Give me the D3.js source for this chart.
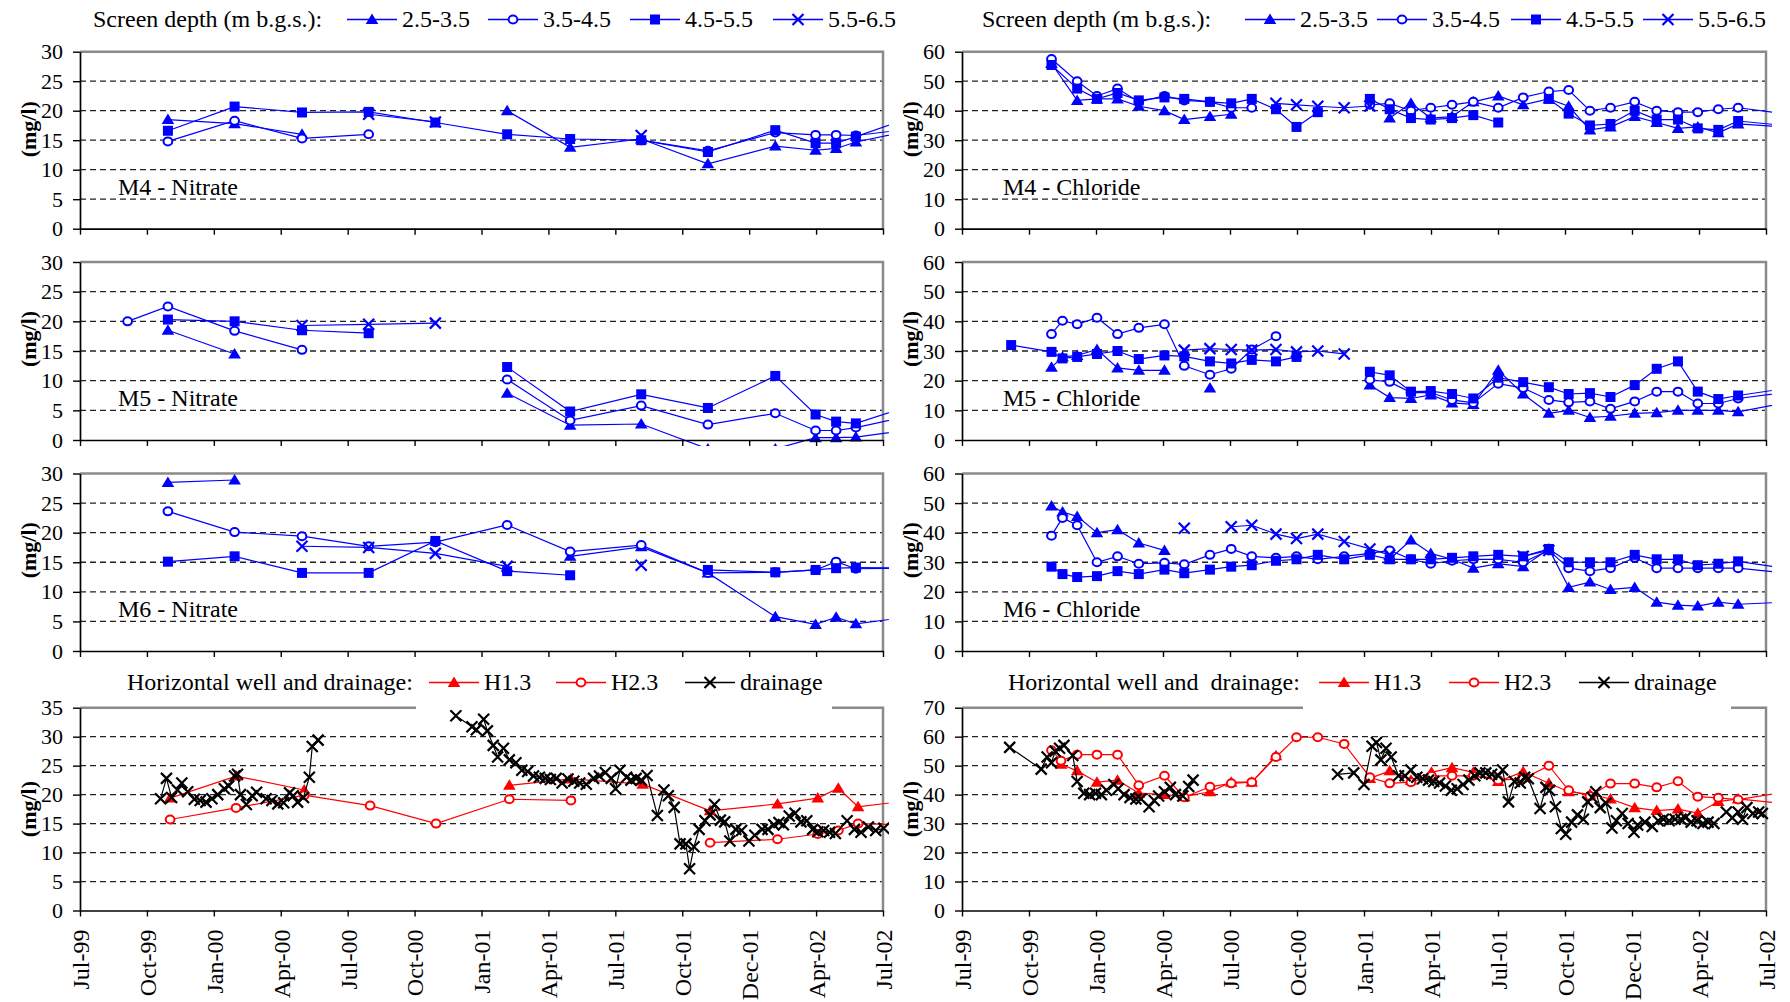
<!DOCTYPE html>
<html>
<head>
<meta charset="utf-8">
<script src="https://cdn.jsdelivr.net/npm/d3@7"></script>
<style>
	body { margin: 0; background: #fff; }
	svg text { font-family: "Liberation Serif", "Times New Roman", serif; fill: #000; }
</style>
</head>
<body>
<svg id="chart" width="1790" height="1002"></svg>
<script>
/* Tick labels and legend texts */
var tickLabels = ['Jul-99', 'Oct-99', 'Jan-00', 'Apr-00', 'Jul-00', 'Oct-00', 'Jan-01',
	'Apr-01', 'Jul-01', 'Oct-01', 'Dec-01', 'Apr-02', 'Jul-02'];
var depthLabels = ['2.5-3.5', '3.5-4.5', '4.5-5.5', '5.5-6.5'];
var wellLabels = ['H1.3', 'H2.3', 'drainage'];

/* Nitrate, monitoring wells M4-M6 (mg/l) */
var nitDates = ['1999-09-04', '1999-10-29', '2000-01-28', '2000-04-29', '2000-07-29', '2000-10-28',
	'2001-02-03', '2001-04-30', '2001-08-05', '2001-11-04', '2002-02-04', '2002-03-31',
	'2002-04-28', '2002-05-25', '2002-08-20'];
var m4Nit25 = [null, 18.5, 17.8, 16.0, null, null, 20.0, 13.8, 15.2, 11.0, 14.0, 13.3, 13.6, 14.7, 16.9];
var m4Nit35 = [null, 14.8, 18.3, 15.3, 16.0, null, null, null, 15.0, 13.2, 16.3, 15.9, 15.9, 15.8, 17.1];
var m4Nit45 = [null, 16.6, 20.7, 19.7, 19.8, 18.0, 16.0, 15.2, 15.0, 13.0, 16.7, 14.5, 14.5, 15.6, 19.4];
var m4Nit55 = [null, null, null, null, 19.4, 18.1, null, null, 15.8, null, null, null, null, null, null];
var m5Nit25 = [null, 18.5, 14.5, null, null, null, 7.9, 2.5, 2.7, -1.5, -1.5, 0.4, 0.4, 0.5, 1.9];
var m5Nit35 = [20.0, 22.5, 18.4, 15.2, null, null, 10.2, 3.3, 5.8, 2.6, 4.5, 1.6, 1.6, 2.1, 4.4];
var m5Nit45 = [null, 20.3, 20.0, 18.5, 18.0, null, 12.3, 4.8, 7.7, 5.4, 10.8, 4.3, 3.1, 2.8, 6.3];
var m5Nit55 = [null, null, null, 19.3, 19.5, 19.7, null, null, null, null, null, null, null, null, null];
var m6Nit25 = [null, 28.5, 28.9, null, null, null, null, 16.0, 17.6, 13.2, 5.8, 4.5, 5.7, 4.6, 6.0];
var m6Nit35 = [null, 23.6, 20.1, 19.4, 17.7, 18.4, 21.3, 16.8, 17.9, 13.2, 13.3, 13.7, 15.1, 13.9, 14.0];
var m6Nit45 = [null, 15.1, 16.0, 13.2, 13.2, 18.6, 13.5, 12.8, null, 13.7, 13.3, 13.7, 14.0, 14.1, 14.0];
var m6Nit55 = [null, null, null, 17.7, 17.5, 16.5, 14.3, null, 14.5, null, null, null, null, null, null];

/* Chloride, M4 (mg/l) */
var m4ChlDates = ['1999-10-31', '1999-12-05', '2000-01-01', '2000-01-29', '2000-02-27', '2000-04-02',
	'2000-04-29', '2000-06-03', '2000-07-02', '2000-07-30', '2000-09-01', '2000-09-29', '2000-10-28',
	'2000-12-03', '2001-01-07', '2001-02-03', '2001-03-04', '2001-03-31', '2001-04-29', '2001-05-28',
	'2001-07-01', '2001-08-04', '2001-09-08', '2001-10-05', '2001-11-03', '2001-12-01', '2002-01-03',
	'2002-02-02', '2002-03-03', '2002-03-30', '2002-04-27', '2002-05-24', '2002-07-26'];
var m4Chl25 = [56, 43.5, 44, 44, 41.5, 40, 37, 38, 38.8, null, null, null, null, null, null, 37.5, 42.5,
	37.5, 38, 43, 45, 42, 44, 41.5, 33.5, 34.5, 38, 36, 34, 34.5, 32.5, 35.5, 34.5];
var m4Chl35 = [57.5, 50, 45, 47.5, 43, 45, 43.5, 43, 41, 41, null, null, null, null, 42, 42.5, 40,
	41, 42, 43, 41, 44.5, 46.5, 47, 40, 41, 43, 40, 39.5, 39.5, 40.5, 41, 39];
var m4Chl45 = [55.5, 47.5, 44, 46, 43.5, 44.5, 44, 43, 42.5, 44, 40.5, 34.5, 39.5, null, 44, 40.5, 37.5,
	37, 37.5, 38.5, 36, null, 44, 39, 35, 35.5, 40, 37, 37, 34, 33.5, 36.5, 35];
var m4Chl55 = [null, null, null, null, null, null, null, null, null, null, 42.5, 42, 41.5, 41, 41.6, null,
	null, null, null, null, null, null, null, null, null, null, null, null, null, null, null, null, null];

/* Chloride, M5 and M6 (mg/l) */
var m56ChlDates = ['1999-09-06', '1999-10-31', '1999-11-15', '1999-12-05', '2000-01-01', '2000-01-29',
	'2000-02-27', '2000-04-02', '2000-04-29', '2000-06-03', '2000-07-02', '2000-07-30', '2000-09-01',
	'2000-09-29', '2000-10-28', '2000-12-03', '2001-01-07', '2001-02-03', '2001-03-04', '2001-03-31',
	'2001-04-29', '2001-05-28', '2001-07-01', '2001-08-04', '2001-09-08', '2001-10-05', '2001-11-03',
	'2001-12-01', '2002-01-03', '2002-02-02', '2002-03-03', '2002-03-30', '2002-04-27', '2002-05-24',
	'2002-07-26'];
var m5Chl25 = [null, 24.5, 28, 28.5, 30.5, 24.3, 23.5, 23.5, null, 17.5, null, null, null, null, null, null,
	18.5, 14.3, 14, 15.2, 12.5, 12, 23.5, 15.5, 9, 10, 7.6, 8, 9, 9.2, 10, 10, 10, 9.5, 12.5];
var m5Chl35 = [null, 35.7, 40.2, 39, 41.2, 35.7, 37.8, 39, 25, 22, 24, 30.5, 35, null, null, null,
	20.3, 19.6, 16, 16, 13.5, 12.5, 19, 17.5, 13.5, 12.7, 13, 10.5, 13, 16.3, 16.3, 12.3, 12.3, 14, 16];
var m5Chl45 = [32, 29.7, 27.5, 28, 29, 30, 27.3, 28.5, 28.2, 26.5, 25.8, 27, 26.5, 28, null, null,
	23, 21.8, 16.3, 16.5, 15.5, 14, 21, 19.5, 17.8, 15.5, 15.8, 14.5, 18.5, 24, 26.5, 16.3, 13.8, 15, 17.3];
var m5Chl55 = [null, null, null, null, null, null, null, null, 30.3, 30.8, 30.5, 30.3, 30.5, 29.7, 30, 29,
	null, null, null, null, null, null, null, null, null, null, null, null, null, null, null, null, null, null, null];
var m6Chl25 = [null, 49, 47, 45.5, 40, 41, 36.5, 34, null, null, null, null, null, null, null, null,
	null, 31, 37.5, 33, 31, 28, 29.5, 28.5, 34.5, 21.5, 23.3, 20.8, 21.5, 16.5, 15.5, 15.2, 16.5, 15.8, 16.5];
var m6Chl35 = [null, 39, 45, 42.5, 30, 32, 29.5, 29.8, 29.3, 32.5, 34.5, 32, 31.5, 32, 31, 32,
	33, 34, 31, 29.5, 30.5, 31, 31, 30, 34, 28, 27, 28, 31.5, 28, 28, 28, 28, 28, 26.4];
var m6Chl45 = [null, 28.5, 26, 25, 25.3, 27, 26, 27.5, 26.3, 27.5, 28.5, 29, 30.5, 31, 32.5, 31,
	32.5, 31, 31, 31, 31.5, 32, 32.5, 32, 34.5, 30, 30, 30, 32.5, 31, 31, 29, 29.5, 30.3, 28];
var m6Chl55 = [null, null, null, null, null, null, null, null, 41.5, null, 42, 42.5, 39.5, 38, 39.5, 37,
	34.5, 32.5, null, null, null, null, null, 32, 34, null, null, null, null, null, null, null, null, null, null];

/* Horizontal wells, nitrate (mg/l) */
var hNitDates = ['1999-11-01', '2000-01-30', '2000-05-02', '2000-07-31', '2000-10-29', '2001-02-06',
	'2001-05-01', '2001-08-07', '2001-11-07', '2002-02-07', '2002-04-03', '2002-05-01', '2002-05-28',
	'2002-08-20'];
var h13Nit = [19.4, 23.2, 20.8, null, null, 21.6, 22.7, 21.8, 17.2, 18.4, 19.4, 21.1, 17.9, 19.2];
var h23Nit = [15.7, 17.7, 19.9, 18.1, 15.0, 19.2, 19.0, null, 11.7, 12.3, 13.2, 13.8, 15.0, 14.7];

/* Drainage, nitrate (mg/l) */
var drainNitDates = [
	'1999-10-19', '1999-10-27', '1999-11-03', '1999-11-11', '1999-11-17', '1999-11-25', '1999-12-04', '1999-12-12', '1999-12-20', '1999-12-28',
	'2000-01-05', '2000-01-14', '2000-01-20', '2000-01-28', '2000-02-01', '2000-02-05', '2000-02-13', '2000-02-21', '2000-02-27', '2000-03-11',
	'2000-03-19', '2000-03-27', '2000-04-04', '2000-04-12', '2000-04-17', '2000-04-23', '2000-05-01', '2000-05-09', '2000-05-13', '2000-05-21',
	'2000-08-15',
	'2000-11-25', '2000-12-17', '2000-12-23', '2001-01-02', '2001-01-07', '2001-01-15', '2001-01-21', '2001-01-29', '2001-02-06', '2001-02-15',
	'2001-02-23', '2001-03-03', '2001-03-11', '2001-03-19', '2001-03-27', '2001-04-03', '2001-04-11', '2001-04-19', '2001-04-27', '2001-05-05',
	'2001-05-13', '2001-05-22', '2001-06-01', '2001-06-09', '2001-06-17', '2001-06-25', '2001-07-01', '2001-07-07', '2001-07-16', '2001-07-22',
	'2001-07-29', '2001-08-05', '2001-08-13', '2001-08-27', '2001-09-05', '2001-09-11', '2001-09-19', '2001-09-27', '2001-10-05', '2001-10-10',
	'2001-10-16', '2001-10-23', '2001-10-31', '2001-11-07', '2001-11-13', '2001-11-21', '2001-11-27', '2001-12-04', '2001-12-12', '2001-12-20',
	'2001-12-30', '2002-01-07', '2002-01-17', '2002-01-25', '2002-02-02', '2002-02-09', '2002-02-15', '2002-02-23', '2002-03-03', '2002-03-11',
	'2002-03-19', '2002-03-27', '2002-04-03', '2002-04-11', '2002-04-19', '2002-04-27', '2002-05-13', '2002-05-23', '2002-06-01', '2002-06-11',
	'2002-06-21', '2002-07-02'];
var drainNitValues = [
	19.3, 22.8, 19.5, 20.8, 22.0, 20.5, 19.2, 19.0, 18.7, 19.3,
	20.0, 21.0, 21.5, 23.2, 23.5, 20.0, 18.3, 19.8, 20.4, 19.3,
	19.0, 18.4, 18.6, 20.3, 19.8, 18.7, 19.5, 23.0, 28.3, 29.4,
	null,
	33.6, 31.7, 31.2, 33.0, 31.0, 28.5, 26.5, 28.0, 26.0, 25.5,
	24.2, 24.0, 23.2, 23.0, 22.8, 22.6, 22.8, 22.0, 22.7, 22.3,
	22.0, 21.8, 22.8, 23.2, 23.8, 22.8, 21.0, 24.2, 23.0, 22.5,
	22.8, 22.5, 23.3, 16.4, 20.8, 19.8, 17.8, 11.5, 11.5, 7.2,
	11.0, 14.0, 15.5, 16.5, 18.3, 15.6, 15.3, 12.0, 14.0, 13.8,
	12.0, 13.0, 14.0, 14.0, 14.8, 15.2, 14.8, 16.3, 16.8, 15.3,
	15.5, 14.0, 13.6, 13.8, 13.5, 13.3, 15.5, 14.0, 13.5, 14.4,
	13.8, 14.2];

/* Horizontal wells, chloride (mg/l) */
var hChlDates = ['1999-10-31', '1999-11-13', '1999-12-05', '2000-01-01', '2000-01-29', '2000-02-27',
	'2000-04-02', '2000-04-29', '2000-06-03', '2000-07-02', '2000-07-30', '2000-09-01', '2000-09-29',
	'2000-10-28', '2000-12-03', '2001-01-07', '2001-02-03', '2001-03-04', '2001-04-01', '2001-04-29',
	'2001-05-28', '2001-07-01', '2001-08-04', '2001-09-08', '2001-10-05', '2001-11-03', '2001-12-01',
	'2002-01-03', '2002-02-02', '2002-03-03', '2002-03-30', '2002-04-27', '2002-05-24', '2002-07-26'];
var h13Chl = [null, 50.5, 48.2, 44.3, 45, 40.5, 40, 39.3, 41, 44.3, 44.3, 53.4, null, null, null, 45.6, 48.2,
	45, 47.7, 49.3, 47.7, 44.5, 47.9, 43.9, 41, 40.1, 38.5, 35.5, 34.5, 35, 33.6, 37.6, 38.5, 36.9];
var h23Chl = [55.3, 51.7, 53.8, 53.8, 53.8, 43.2, 46.5, 39.1, 42.7, 43.9, 44.3, 53.0, 59.8, 59.8, 57.5, 46,
	43.9, 44.3, 46.5, 46.5, 46.5, 45, 45.5, 50, 41.5, 39.5, 43.8, 43.8, 42.5, 44.6, 39.3, 38.9, 38.3, 40.8];

/* Drainage, chloride (mg/l) */
var drainChlDates = [
	'1999-09-04', '1999-10-17', '1999-10-25', '1999-10-31', '1999-11-05', '1999-11-11', '1999-11-17', '1999-11-29', '1999-12-05', '1999-12-14',
	'1999-12-22', '1999-12-30', '2000-01-07', '2000-01-14', '2000-01-24', '2000-01-30', '2000-02-07', '2000-02-15', '2000-02-23', '2000-03-01',
	'2000-03-12', '2000-03-19', '2000-03-25', '2000-04-02', '2000-04-10', '2000-04-17', '2000-04-27', '2000-05-05', '2000-05-11', '2000-08-15',
	'2000-11-24', '2000-12-16', '2000-12-30', '2001-01-10', '2001-01-16', '2001-01-22', '2001-01-29', '2001-02-05', '2001-02-15', '2001-02-24',
	'2001-03-04', '2001-03-12', '2001-03-20', '2001-03-28', '2001-04-04', '2001-04-12', '2001-04-20', '2001-04-28', '2001-05-06', '2001-05-14',
	'2001-05-22', '2001-05-30', '2001-06-06', '2001-06-14', '2001-06-22', '2001-07-01', '2001-07-07', '2001-07-15', '2001-07-23', '2001-07-31',
	'2001-08-06', '2001-08-11', '2001-08-27', '2001-09-04', '2001-09-09', '2001-09-17', '2001-09-25', '2001-10-01', '2001-10-09', '2001-10-17',
	'2001-10-25', '2001-10-31', '2001-11-06', '2001-11-11', '2001-11-17', '2001-11-25', '2001-12-03', '2001-12-09', '2001-12-17', '2001-12-25',
	'2002-01-02', '2002-01-07', '2002-01-17', '2002-01-27', '2002-02-04', '2002-02-11', '2002-02-19', '2002-02-27', '2002-03-07', '2002-03-13',
	'2002-03-21', '2002-03-29', '2002-04-06', '2002-04-13', '2002-04-21', '2002-05-08', '2002-05-16', '2002-05-24', '2002-05-30', '2002-06-05',
	'2002-06-13', '2002-06-21', '2002-06-26'];
var drainChlValues = [
	56.3, 48.8, 53, 51, 55, 56, 57, 53.5, 44.5, 40.5,
	40, 40.5, 40, 41.5, 43.5, 42, 40, 39, 38.5, 38.5,
	35.8, 38, 39.5, 41, 42.5, 40, 39.5, 42.8, 45, null,
	47, 47.5, 43.5, 56.7, 58, 52, 56, 53, 46.5, 46.5,
	48.5, 46, 45.5, 45, 44.5, 44, 43, 41.5, 42, 43.5,
	45, 46.5, 47.5, 47.5, 47, 46.5, 48.5, 37.5, 44.5, 44,
	46, 45.5, 35.2, 42.5, 41.5, 35.8, 28.3, 26.3, 30.5, 33,
	31.5, 37.5, 39, 41, 35.5, 37, 28.5, 31, 33.5, 30,
	27, 29.5, 30.5, 29, 31, 31.5, 31, 31.5, 31.5, 32,
	30.5, 31, 30, 30.5, 30, 34, 32, 34, 31.5, 35.5,
	33.5, 34, 33.5];

/* Layout */
var serif = '"Liberation Serif", "Times New Roman", serif';
var svg = d3.select('#chart');
var parseDate = d3.timeParse('%Y-%m-%d');
var dateMin = parseDate('1999-07-01'),
	dateMax = parseDate('2002-07-01');
var tickDates = d3.range(13).map(function (i) {
	return new Date(+dateMin + i * (dateMax - dateMin) / 12);
});
var colX = [[80, 883], [962, 1766]];
var rowY = [[51.7, 228.7], [262, 440], [473.5, 651], [707.7, 910.5]];
var titleShift = [-11, -12, -12, 0];
var blue = '#0000ff', red = '#ff0000', black = '#000000';
var depthMarkers = ['tri', 'circ', 'sq', 'x'];

var depthSeries = function (dates, list) {
	return list.map(function (values, i) {
		return { dates: dates, values: values, color: blue, marker: depthMarkers[i] };
	});
};

var wellSeries = function (hDates, h13, h23, dDates, dValues) {
	return [
		{ dates: hDates, values: h13, color: red, marker: 'tri' },
		{ dates: hDates, values: h23, color: red, marker: 'circ' },
		{ dates: dDates, values: dValues, color: black, marker: 'x' }
	];
};

var panels = [
	{ col: 0, row: 0, yMax: 30, yStep: 5, label: 'M4 - Nitrate', series: depthSeries(nitDates, [m4Nit25, m4Nit35, m4Nit45, m4Nit55]) },
	{ col: 1, row: 0, yMax: 60, yStep: 10, label: 'M4 - Chloride', series: depthSeries(m4ChlDates, [m4Chl25, m4Chl35, m4Chl45, m4Chl55]) },
	{ col: 0, row: 1, yMax: 30, yStep: 5, label: 'M5 - Nitrate', series: depthSeries(nitDates, [m5Nit25, m5Nit35, m5Nit45, m5Nit55]) },
	{ col: 1, row: 1, yMax: 60, yStep: 10, label: 'M5 - Chloride', series: depthSeries(m56ChlDates, [m5Chl25, m5Chl35, m5Chl45, m5Chl55]) },
	{ col: 0, row: 2, yMax: 30, yStep: 5, label: 'M6 - Nitrate', series: depthSeries(nitDates, [m6Nit25, m6Nit35, m6Nit45, m6Nit55]) },
	{ col: 1, row: 2, yMax: 60, yStep: 10, label: 'M6 - Chloride', series: depthSeries(m56ChlDates, [m6Chl25, m6Chl35, m6Chl45, m6Chl55]) },
	{ col: 0, row: 3, yMax: 35, yStep: 5, label: null, series: wellSeries(hNitDates, h13Nit, h23Nit, drainNitDates, drainNitValues) },
	{ col: 1, row: 3, yMax: 70, yStep: 10, label: null, series: wellSeries(hChlDates, h13Chl, h23Chl, drainChlDates, drainChlValues) }
];

var drawMarker = function (g, type, color) {
	if (type === 'circ') {
		g.append('ellipse')
			.attr('rx', 4.4)
			.attr('ry', 4)
			.attr('fill', '#fff')
			.attr('stroke', color)
			.attr('stroke-width', 2);
	} else if (type === 'x') {
		g.append('path')
			.attr('d', 'M-5.5,-5.5L5.5,5.5M-5.5,5.5L5.5,-5.5')
			.attr('fill', 'none')
			.attr('stroke', color)
			.attr('stroke-width', 2.2);
	} else if (type === 'tri') {
		g.append('path')
			.attr('d', 'M0,-6L6.3,4.5L-6.3,4.5Z')
			.attr('fill', color);
	} else {
		g.append('rect')
			.attr('x', -5).attr('y', -5)
			.attr('width', 10).attr('height', 10)
			.attr('fill', color);
	}
};

var drawPanel = function (p, idx) {
	var xr = colX[p.col], yr = rowY[p.row];
	var x = d3.scaleTime().domain([dateMin, dateMax]).range(xr);
	var y = d3.scaleLinear().domain([0, p.yMax]).range([yr[1], yr[0]]);
	var yTicks = d3.range(0, p.yMax + p.yStep / 2, p.yStep);
	var g = svg.append('g');

	g.selectAll('line.grid')
		.data(yTicks.slice(1, -1))
		.enter().append('line')
			.attr('x1', xr[0]).attr('x2', xr[1])
			.attr('y1', function (d) { return y(d); })
			.attr('y2', function (d) { return y(d); })
			.attr('stroke', '#222')
			.attr('stroke-width', 1.3)
			.attr('stroke-dasharray', '6,4');

	g.append('path')
		.attr('d', 'M' + xr[0] + ',' + yr[0] + 'H' + xr[1] + 'V' + yr[1])
		.attr('fill', 'none')
		.attr('stroke', '#8a8a8a')
		.attr('stroke-width', 2.5);

	svg.append('clipPath')
		.attr('id', 'clip' + idx)
		.append('rect')
			.attr('x', xr[0] - 6).attr('y', yr[0] - 6)
			.attr('width', xr[1] - xr[0] + 12)
			.attr('height', yr[1] - yr[0] + 12);

	var plot = g.append('g').attr('clip-path', 'url(#clip' + idx + ')');

	p.series.forEach(function (s) {
		var pts = s.dates.map(function (d, i) {
			return { date: parseDate(d), value: s.values[i] };
		});
		var line = d3.line()
			.defined(function (d) { return d.value != null; })
			.x(function (d) { return x(d.date); })
			.y(function (d) { return y(d.value); });

		plot.append('path')
			.datum(pts)
			.attr('d', line)
			.attr('fill', 'none')
			.attr('stroke', s.color)
			.attr('stroke-width', 1.2);

		plot.selectAll(null)
			.data(pts.filter(function (d) { return d.value != null; }))
			.enter().append('g')
				.attr('transform', function (d) { return 'translate(' + [x(d.date), y(d.value)] + ')'; })
				.each(function () { drawMarker(d3.select(this), s.marker, s.color); });
	});

	var yAxis = g.append('g')
		.attr('transform', 'translate(' + xr[0] + ',0)')
		.call(d3.axisLeft(y).tickValues(yTicks).tickSize(7).tickSizeOuter(0).tickPadding(10));

	var xAxis = g.append('g')
		.attr('transform', 'translate(0,' + yr[1] + ')')
		.call(d3.axisBottom(x).tickValues(tickDates).tickSize(6).tickSizeOuter(0)
			.tickFormat(function (d, i) { return p.row === 3 ? tickLabels[i] : ''; }));

	[yAxis, xAxis].forEach(function (a) {
		a.attr('font-family', null).attr('font-size', null);
		a.select('.domain').attr('stroke', '#000').attr('stroke-width', 1.7);
		a.selectAll('.tick line').attr('stroke', '#000').attr('stroke-width', 1.4);
	});

	yAxis.selectAll('text')
		.style('font-family', serif)
		.style('font-size', '22px');

	xAxis.selectAll('text')
		.style('font-family', serif)
		.style('font-size', '24px')
		.style('text-anchor', 'end')
		.attr('transform', 'rotate(-90)')
		.attr('x', -19)
		.attr('y', 0)
		.attr('dy', '0.35em');

	g.append('text')
		.attr('transform', 'translate(' + [xr[0] - 52, (yr[0] + yr[1]) / 2 + titleShift[p.row]] + ') rotate(-90)')
		.attr('text-anchor', 'middle')
		.attr('dy', '0.35em')
		.style('font-family', serif)
		.style('font-size', '22px')
		.style('font-weight', 'bold')
		.text('(mg/l)');

	if (p.label) {
		g.append('text')
			.attr('x', xr[0] + (p.col === 0 ? 38 : 41))
			.attr('y', yr[1] - 34)
			.style('font-family', serif)
			.style('font-size', '24px')
			.text(p.label);
	}
};

panels.forEach(drawPanel);

/* Legends */
var drawLegend = function (title, titleX, baseline, items, box) {
	var g = svg.append('g');

	if (box) {
		g.append('rect')
			.attr('x', box[0]).attr('y', baseline - 22)
			.attr('width', box[1] - box[0]).attr('height', rowY[3][0] + 2 - (baseline - 22))
			.attr('fill', '#fff');
	}

	g.append('text')
		.attr('x', titleX)
		.attr('y', baseline)
		.style('font-family', serif)
		.style('font-size', '24px')
		.style('white-space', 'pre')
		.text(title);

	items.forEach(function (it) {
		var ly = baseline - 7.5;
		g.append('line')
			.attr('x1', it.x1).attr('x2', it.x2)
			.attr('y1', ly).attr('y2', ly)
			.attr('stroke', it.color)
			.attr('stroke-width', 1.3);
		drawMarker(g.append('g').attr('transform', 'translate(' + [(it.x1 + it.x2) / 2, ly] + ')'), it.marker, it.color);
		g.append('text')
			.attr('x', it.x2 + 5)
			.attr('y', baseline)
			.style('font-family', serif)
			.style('font-size', '24px')
			.text(it.text);
	});
};

var depthItems = function (starts) {
	return starts.map(function (s, i) {
		return { x1: s, x2: s + 50, color: blue, marker: depthMarkers[i], text: depthLabels[i] };
	});
};

var wellItems = function (starts) {
	var colors = [red, red, black], markers = ['tri', 'circ', 'x'];
	return starts.map(function (s, i) {
		return { x1: s, x2: s + 50, color: colors[i], marker: markers[i], text: wellLabels[i] };
	});
};

drawLegend('Screen depth (m b.g.s.):', 93, 27, depthItems([347, 488, 630, 773]));
drawLegend('Screen depth (m b.g.s.):', 982, 27, depthItems([1245, 1377, 1511, 1643]));
drawLegend('Horizontal well and drainage:', 127, 690, wellItems([429, 556, 685]), [416, 832]);
drawLegend('Horizontal well and  drainage:', 1008, 690, wellItems([1319, 1449, 1579]), [1303, 1731]);
</script>
</body>
</html>
